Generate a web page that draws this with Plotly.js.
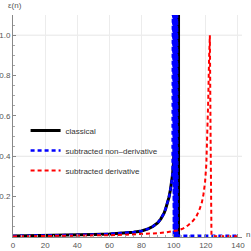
<!DOCTYPE html>
<html>
<head>
<meta charset="utf-8">
<script src="https://cdn.plot.ly/plotly-3.0.1.min.js"></script>
<style>html,body{margin:0;padding:0;background:#fff}#chart{width:251px;height:251px}</style>
</head>
<body>
<div id="chart"></div>
<script>
// classical curve (with pole jump near n=103)
const classicalN = [0, 10, 20, 30, 40, 50, 60, 70, 75, 80, 84, 87, 90, 92, 94, 95, 96, 97, 98, 98.7, 99.3, 99.8, 100.5, 101.5, 102.3, 103.0, 103.0];
const classicalE = [0.005, 0.006, 0.007, 0.008, 0.010, 0.012, 0.015, 0.020, 0.024, 0.030, 0.040, 0.052, 0.070, 0.090, 0.118, 0.140, 0.165, 0.195, 0.235, 0.27, 0.31, 0.36, 0.46, 0.70, 1.20, 5.0, -5.0];

// subtracted non-derivative: follows classical, oscillates violently near the pole, then ~0
const nonDerivN = [0, 10, 20, 30, 40, 50, 60, 70, 75, 80, 84, 87, 90, 92, 94, 95, 96, 97, 98, 98.7, 99.3,
  99.6, 99.7, 99.8, 99.9, 100.0, 100.1, 100.2, 100.3, 100.4, 100.5, 100.6, 100.7, 100.8, 100.9, 101.0, 101.1,
  101.2, 101.3, 101.4, 101.5, 101.6, 101.7, 101.8, 101.9, 102.0, 102.1, 102.2, 102.3, 102.4, 102.5,
  103.5, 110, 120, 130, 140];
const nonDerivE = [0.005, 0.006, 0.007, 0.008, 0.010, 0.012, 0.015, 0.020, 0.024, 0.030, 0.040, 0.052, 0.070, 0.090, 0.118, 0.140, 0.165, 0.195, 0.235, 0.27, 0.31,
  1.5, 0.0, 1.5, 0.0, 1.5, 0.0, 1.5, 0.0, 1.5, 0.0, 1.5, 0.0, 1.5, 0.0, 1.5, 0.0,
  1.5, 0.0, 1.5, 0.0, 1.5, 0.0, 1.5, 0.0, 1.5, 0.0, 1.5, 0.0, 1.5, 0.01,
  0.006, 0.006, 0.006, 0.006, 0.006];

// subtracted derivative
const derivN = [0, 20, 40, 60, 70, 80, 90, 95, 100, 103, 106, 109, 112, 114, 116, 117.5, 118.5, 119.5, 120.3, 121, 121.5, 122, 122.5, 123, 123.5, 125, 130, 140];
const derivE = [0.003, 0.004, 0.006, 0.009, 0.011, 0.014, 0.019, 0.023, 0.028, 0.033, 0.043, 0.058, 0.080, 0.100, 0.135, 0.170, 0.210, 0.270, 0.360, 0.500, 0.680, 0.880, 1.0, 0.45, 0.005, 0.004, 0.004, 0.004];

const seriesNames = ["classical", "subtracted non\u2013derivative", "subtracted derivative"];
const xTickVals = [0, 20, 40, 60, 80, 100, 120, 140];
const yTickVals = [0.2, 0.4, 0.6, 0.8, 1.0];
const yTickText = ["0.2", "0.4", "0.6", "0.8", "1.0"];
const yGridLines = [0.4, 1.0];

const FONT = '"Liberation Sans", Arial, sans-serif';

const traces = [
  {x: classicalN, y: classicalE, mode: 'lines', name: seriesNames[0], legendgroup: 'a',
   line: {color: '#000000', width: 3}},
  {x: nonDerivN, y: nonDerivE, mode: 'lines', name: seriesNames[1], legendgroup: 'b',
   line: {color: '#0000ff', width: 2.5, dash: '4px,3px'}},
  {x: derivN, y: derivE, mode: 'lines', name: seriesNames[2], legendgroup: 'c',
   line: {color: '#ff0000', width: 2, dash: '4px,3px'}}
];

const shapes = yGridLines.map(v => ({type: 'line', xref: 'paper', x0: 0, x1: 1, yref: 'y', y0: v, y1: v,
  line: {color: '#e6e6e6', width: 1}, layer: 'below'}));

const layout = {
  width: 251, height: 251,
  margin: {l: 13, r: 9, t: 15, b: 14, pad: 0},
  paper_bgcolor: '#ffffff', plot_bgcolor: '#ffffff',
  font: {family: FONT, size: 8, color: '#444444'},
  showlegend: true,
  legend: {x: 0.055, y: 0.545, xanchor: 'left', yanchor: 'top', bgcolor: 'rgba(0,0,0,0)',
    font: {family: FONT, size: 8, color: '#333333'}, tracegroupgap: 1, itemwidth: 30},
  xaxis: {range: [0, 142.5], tickvals: xTickVals, ticks: 'inside', ticklen: 3, tickcolor: '#888',
    showgrid: true, gridcolor: '#ececec', gridwidth: 1, zeroline: false,
    showline: true, linecolor: '#888', linewidth: 1,
    minor: {ticks: 'inside', dtick: 5, ticklen: 2, tickcolor: '#aaa', showgrid: false},
    tickfont: {family: FONT, size: 8, color: '#555'}},
  yaxis: {range: [0, 1.1], tickvals: yTickVals, ticktext: yTickText, ticks: 'inside', ticklen: 3, tickcolor: '#888',
    showgrid: false, zeroline: false, showline: true, linecolor: '#888', linewidth: 1,
    minor: {ticks: 'inside', dtick: 0.05, ticklen: 2, tickcolor: '#aaa', showgrid: false},
    tickfont: {family: FONT, size: 8, color: '#555'}},
  shapes: shapes,
  annotations: [
    {text: '\u03b5(n)', xref: 'paper', yref: 'paper', x: 0.01, y: 1.042, xanchor: 'center', yanchor: 'middle',
     showarrow: false, font: {family: FONT, size: 8, color: '#555'}},
    {text: 'n', xref: 'paper', yref: 'paper', x: 1.025, y: 0.01, xanchor: 'center', yanchor: 'middle',
     showarrow: false, font: {family: FONT, size: 8, color: '#555'}}
  ]
};

Plotly.newPlot('chart', traces, layout, {displayModeBar: false, staticPlot: true});
</script>
</body>
</html>
